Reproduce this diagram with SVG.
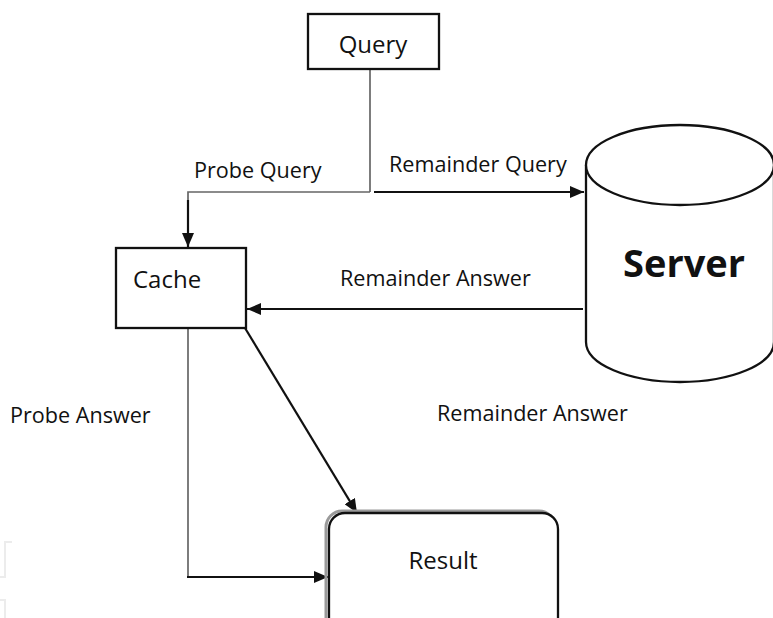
<svg xmlns="http://www.w3.org/2000/svg" width="773" height="618" viewBox="0 0 773 618">
<style>
.lbl{font-family:"Open Sans","Liberation Sans",sans-serif;font-size:21.6px;fill:#111}
.big{font-family:"Open Sans","Liberation Sans",sans-serif;font-size:24px;fill:#111}
.box{fill:#fff;stroke:#111;stroke-width:2.3}
.ln{fill:none;stroke:#111;stroke-width:2.2}
.gl{fill:none;stroke:#666;stroke-width:1.7}
</style>
<defs>
<marker id="ah" viewBox="0 0 14 12" refX="14" refY="6" markerWidth="14" markerHeight="12" markerUnits="userSpaceOnUse" orient="auto">
<path d="M0,0 L14,6 L0,12 Z" fill="#111"/>
</marker>
</defs>
<rect width="773" height="618" fill="#fff"/>
<g id="artifacts" fill="none" stroke="#ececec" stroke-width="2">
<polyline points="12,542 5,542 5,577 0,577"/>
<polyline points="0,600 5,600 5,618"/>
</g>
<g id="connectors">
<line class="gl" x1="370" y1="69" x2="370" y2="192"/>
<polyline class="gl" points="370,192 188,192 188,200"/>
<line class="ln" x1="188" y1="200" x2="188" y2="247" marker-end="url(#ah)"/>
<line class="ln" x1="374" y1="192" x2="584" y2="192" marker-end="url(#ah)"/>
<line class="ln" x1="583" y1="309" x2="247" y2="309" marker-end="url(#ah)"/>
<line class="ln" x1="245" y1="328" x2="357" y2="513" marker-end="url(#ah)"/>
<polyline class="gl" points="188,329 188,577"/>
<line class="ln" x1="187" y1="577" x2="328" y2="577" marker-end="url(#ah)"/>
</g>
<g id="query">
<rect class="box" x="308" y="14" width="131" height="55"/>
<text class="big" x="373" y="53" text-anchor="middle">Query</text>
</g>
<g id="cache">
<rect class="box" x="116" y="248" width="130" height="80"/>
<text class="big" x="133" y="288">Cache</text>
</g>
<g id="server">
<path d="M586,165 L586,342 A94,40 0 0 0 774,342 L774,165" fill="#fff" stroke="#111" stroke-width="2.3"/>
<ellipse cx="680" cy="165" rx="94" ry="40" fill="#fff" stroke="#111" stroke-width="2.3"/>
<text x="684" y="277" text-anchor="middle" font-family="'Open Sans','Liberation Sans',sans-serif" font-weight="bold" font-size="38" fill="#111">Server</text>
</g>
<g id="result">
<rect x="326" y="511" width="229" height="140" rx="16" fill="none" stroke="#9a9a9a" stroke-width="3"/>
<rect class="box" x="329" y="513" width="229" height="140" rx="16"/>
<text class="big" x="443" y="569" text-anchor="middle">Result</text>
</g>
<g id="labels">
<text class="lbl" x="194" y="178">Probe Query</text>
<text class="lbl" x="389" y="172">Remainder Query</text>
<text class="lbl" x="340" y="286">Remainder Answer</text>
<text class="lbl" x="10" y="423">Probe Answer</text>
<text class="lbl" x="437" y="421">Remainder Answer</text>
</g>
</svg>
